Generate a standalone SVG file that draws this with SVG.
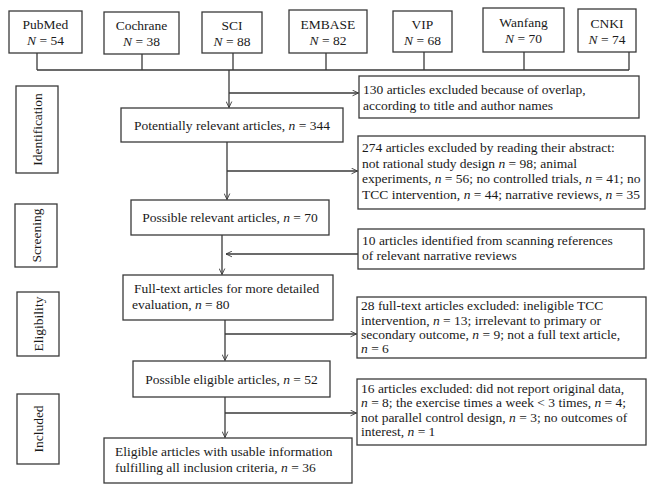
<svg xmlns="http://www.w3.org/2000/svg" width="656" height="491" viewBox="0 0 656 491">
<defs>
<style>
.b{fill:#fff;stroke:#3a3a3a;stroke-width:1.3}
.t{font-family:"Liberation Serif","Times New Roman",serif;font-size:13.5px;fill:#1a1a1a}
.c{text-anchor:middle}
.i{font-style:italic}
.ln{fill:none;stroke:#3a3a3a;stroke-width:1.3}
</style>
<marker id="ah" viewBox="0 0 10 10" refX="9.5" refY="5" markerWidth="7" markerHeight="7" orient="auto" markerUnits="userSpaceOnUse">
<path d="M1,1 L9.5,5 L1,9" fill="none" stroke="#3a3a3a" stroke-width="1.3"/>
</marker>
</defs>
<rect width="656" height="491" fill="#fff"/>

<g id="pubmed"><rect class="b" x="9" y="11" width="73" height="42"/><text class="t c" x="45.5" y="29">PubMed</text><text class="t c" x="45.5" y="45"><tspan class="i">N</tspan> = 54</text></g>
<g id="cochrane"><rect class="b" x="104" y="12" width="75" height="42"/><text class="t c" x="141.5" y="30">Cochrane</text><text class="t c" x="141.5" y="46"><tspan class="i">N</tspan> = 38</text></g>
<g id="sci"><rect class="b" x="202" y="12" width="60" height="41"/><text class="t c" x="232" y="30">SCI</text><text class="t c" x="232" y="46"><tspan class="i">N</tspan> = 88</text></g>
<g id="embase"><rect class="b" x="289" y="10" width="78" height="43"/><text class="t c" x="328" y="29">EMBASE</text><text class="t c" x="328" y="45"><tspan class="i">N</tspan> = 82</text></g>
<g id="vip"><rect class="b" x="393" y="11" width="59" height="41"/><text class="t c" x="422.5" y="29">VIP</text><text class="t c" x="422.5" y="45"><tspan class="i">N</tspan> = 68</text></g>
<g id="wanfang"><rect class="b" x="483" y="8" width="81" height="44"/><text class="t c" x="523.5" y="27">Wanfang</text><text class="t c" x="523.5" y="43"><tspan class="i">N</tspan> = 70</text></g>
<g id="cnki"><rect class="b" x="578" y="9" width="58" height="43"/><text class="t c" x="607" y="28">CNKI</text><text class="t c" x="607" y="44"><tspan class="i">N</tspan> = 74</text></g>

<g id="lbl-identification"><rect class="b" x="16" y="86" width="42" height="87"/><text class="t c" transform="translate(41.5,129.5) rotate(-90)">Identification</text></g>
<g id="lbl-screening"><rect class="b" x="15" y="204" width="42" height="63"/><text class="t c" transform="translate(40.5,235.5) rotate(-90)">Screening</text></g>
<g id="lbl-eligibility"><rect class="b" x="17" y="292" width="42" height="64"/><text class="t c" transform="translate(42.5,324) rotate(-90)">Eligibility</text></g>
<g id="lbl-included"><rect class="b" x="17" y="394" width="42" height="70"/><text class="t c" transform="translate(42.5,429) rotate(-90)">Included</text></g>

<g id="excl-overlap"><rect class="b" x="359" y="76" width="280" height="42"/><text class="t" x="363" y="94">130 articles excluded because of overlap,</text><text class="t" x="363" y="110">according to title and author names</text></g>
<g id="potential"><rect class="b" x="121" y="108" width="222" height="34"/><text class="t c" x="232" y="129.5">Potentially relevant articles, <tspan class="i">n</tspan> = 344</text></g>
<g id="excl-abstract"><rect class="b" x="358" y="136" width="287" height="73"/><text class="t" x="362" y="152">274 articles excluded by reading their abstract:</text><text class="t" x="362" y="167.5">not rational study design <tspan class="i">n</tspan> = 98; animal</text><text class="t" x="362" y="183">experiments, <tspan class="i">n</tspan> = 56; no controlled trials, <tspan class="i">n</tspan> = 41; no</text><text class="t" x="362" y="199">TCC intervention, <tspan class="i">n</tspan> = 44; narrative reviews, <tspan class="i">n</tspan> = 35</text></g>
<g id="possible-relevant"><rect class="b" x="131" y="200" width="198" height="35"/><text class="t c" x="230" y="222">Possible relevant articles, <tspan class="i">n</tspan> = 70</text></g>
<g id="added-refs"><rect class="b" x="358" y="229" width="286" height="40"/><text class="t" x="362" y="245">10 articles identified from scanning references</text><text class="t" x="362" y="260">of relevant narrative reviews</text></g>
<g id="fulltext"><rect class="b" x="123" y="275" width="210" height="45"/><text class="t" x="134" y="293">Full-text articles for more detailed</text><text class="t" x="132" y="309">evaluation, <tspan class="i">n</tspan> = 80</text></g>
<g id="excl-fulltext"><rect class="b" x="357" y="297" width="289" height="61"/><text class="t" x="361" y="310">28 full-text articles excluded: ineligible TCC</text><text class="t" x="361" y="324.5">intervention, <tspan class="i">n</tspan> = 13; irrelevant to primary or</text><text class="t" x="361" y="339">secondary outcome, <tspan class="i">n</tspan> = 9; not a full text article,</text><text class="t" x="361" y="353"><tspan class="i">n</tspan> = 6</text></g>
<g id="possible-eligible"><rect class="b" x="133" y="361" width="197" height="36"/><text class="t c" x="231.5" y="383.5">Possible eligible articles, <tspan class="i">n</tspan> = 52</text></g>
<g id="excl-final"><rect class="b" x="357" y="379" width="289" height="66"/><text class="t" x="361" y="392.5">16 articles excluded: did not report original data,</text><text class="t" x="361" y="407"><tspan class="i">n</tspan> = 8; the exercise times a week &lt; 3 times, <tspan class="i">n</tspan> = 4;</text><text class="t" x="361" y="421.5">not parallel control design, <tspan class="i">n</tspan> = 3; no outcomes of</text><text class="t" x="361" y="436">interest, <tspan class="i">n</tspan> = 1</text></g>
<g id="eligible"><rect class="b" x="104" y="438" width="248" height="45"/><text class="t" x="115" y="456">Eligible articles with usable information</text><text class="t" x="115" y="472">fulfilling all inclusion criteria, <tspan class="i">n</tspan> = 36</text></g>

<g id="connectors">
<path class="ln" d="M37,53 V70 M142,54 V70 M233,53 V70 M326,53 V70 M424,52 V70 M524,52 V70 M629,52 V70 M37,70 H629"/>
<path class="ln" d="M229,70 V107.5" marker-end="url(#ah)"/>
<path class="ln" d="M229,93 H358.5" marker-end="url(#ah)"/>
<path class="ln" d="M227,142 V199.5" marker-end="url(#ah)"/>
<path class="ln" d="M227,171 H357.5" marker-end="url(#ah)"/>
<path class="ln" d="M222,235 V274.5" marker-end="url(#ah)"/>
<path class="ln" d="M358,254 H226" marker-end="url(#ah)"/>
<path class="ln" d="M225,320 V360.5" marker-end="url(#ah)"/>
<path class="ln" d="M225,334 H356.5" marker-end="url(#ah)"/>
<path class="ln" d="M225,397 V437.5" marker-end="url(#ah)"/>
<path class="ln" d="M225,413 H356.5" marker-end="url(#ah)"/>
</g>
</svg>
